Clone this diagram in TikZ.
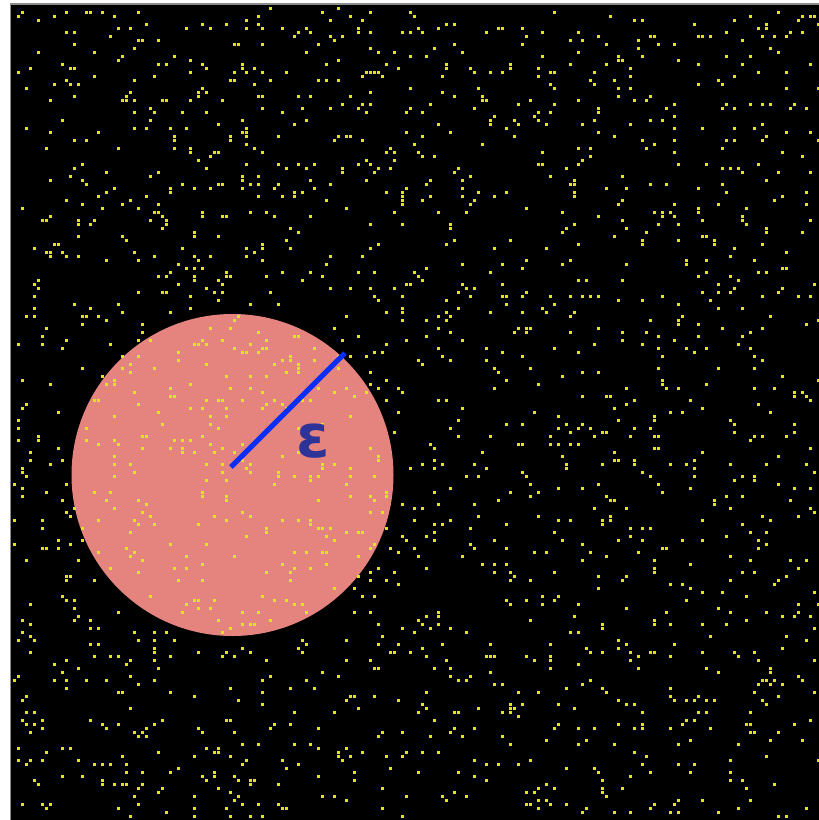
\documentclass[tikz,border=0pt]{standalone}
\usepackage{fontspec}
\newfontfamily\epsfont{DejaVu Sans}
\definecolor{fieldgrey}{HTML}{8C8C8C}
\definecolor{dotyellow}{HTML}{E2E224}
\definecolor{blobpink}{HTML}{E5837E}
\definecolor{radiusblue}{HTML}{0A2EF5}
\definecolor{labelblue}{HTML}{2E3397}
\tikzset{
  field/.style={draw=fieldgrey, line width=1.5pt, fill=black},
  blob/.style={circle, fill=blobpink, minimum size=322pt, inner sep=0pt},
  dot/.style={fill=dotyellow},
  radiusline/.style={draw=radiusblue, line width=5pt},
  epslabel/.style={font=\epsfont\bfseries\fontsize{60}{62}\selectfont,
                   text=labelblue, inner sep=0pt},
}

\begin{document}
\begin{tikzpicture}[x=1pt, y=-1pt]
  \useasboundingbox (0,0) rectangle (819,820);
  \draw[field] (10.5,4) rectangle (825,825);
  \node[blob] (blob) at (232.5,475) {};
  % random points
  \pgfmathsetseed{4711}
  \foreach \i in {1,...,1900} {
    \pgfmathrandominteger{\gx}{0}{201}
    \pgfmathrandominteger{\gy}{0}{202}
    \fill[dot] ({12.75+4*\gx},{6.75+4*\gy}) rectangle ++(3.5,3.5);
  }
  \coordinate (hub) at (231,467);
  \coordinate (rim) at (345,353);
  \draw[radiusline] (hub) -- (rim);
  \node[epslabel] (eps) at (313,441) {ε};
\end{tikzpicture}
\end{document}
